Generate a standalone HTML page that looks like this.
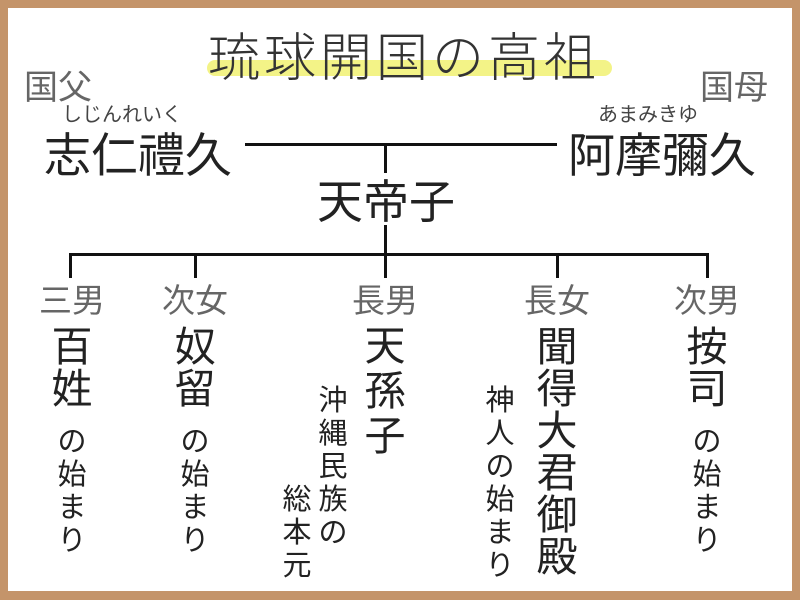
<!DOCTYPE html>
<html><head><meta charset="utf-8"><style>
body{margin:0;width:800px;height:600px;background:#c4946a;position:relative;overflow:hidden;font-family:"Liberation Sans","Noto Sans CJK JP",sans-serif;}
.panel{position:absolute;left:8px;top:8px;width:784px;height:583px;background:#fff;}
.t{position:absolute;white-space:nowrap;color:#222;}
.g{color:#666;}
.v{position:absolute;text-align:center;color:#222;}
.l{position:absolute;background:#111;}
</style></head><body>
<div class="panel"></div>
<div style="position:absolute;left:207px;top:60px;width:405px;height:16px;background:#f2f27a;border-radius:8px;opacity:.9"></div>
<div class="t" style="left:208px;top:16px;font-size:52px;letter-spacing:4px;color:#333;font-weight:300">琉球開国の高祖</div>
<div class="t g" style="left:24px;top:60px;font-size:34px">国父</div>
<div class="t g" style="left:700px;top:60px;font-size:34px">国母</div>
<div class="t" style="left:62px;top:98px;font-size:20px;color:#444">しじんれいく</div>
<div class="t" style="left:598px;top:98px;font-size:20px;color:#444">あまみきゆ</div>
<div class="t" style="left:44px;top:117px;font-size:47px">志仁禮久</div>
<div class="t" style="left:568px;top:117px;font-size:47px">阿摩彌久</div>
<div class="t" style="left:317px;top:166px;font-size:46px">天帝子</div>
<div class="l" style="left:245px;top:143px;width:312px;height:3px"></div>
<div class="l" style="left:384px;top:143px;width:3px;height:30px"></div>
<div class="l" style="left:384px;top:225px;width:3px;height:31px"></div>
<div class="l" style="left:69px;top:253px;width:640px;height:3px"></div>
<div class="l" style="left:69px;top:253px;width:3px;height:25px"></div>
<div class="l" style="left:194px;top:253px;width:3px;height:25px"></div>
<div class="l" style="left:384px;top:253px;width:3px;height:25px"></div>
<div class="l" style="left:556px;top:253px;width:3px;height:25px"></div>
<div class="l" style="left:706px;top:253px;width:3px;height:25px"></div>
<div class="t g" style="left:39px;top:274px;font-size:33px">三男</div>
<div class="t g" style="left:162px;top:274px;font-size:33px">次女</div>
<div class="t g" style="left:352px;top:274px;font-size:33px">長男</div>
<div class="t g" style="left:524px;top:274px;font-size:33px">長女</div>
<div class="t g" style="left:674px;top:274px;font-size:33px">次男</div>
<div class="v" style="left:50px;top:326px;width:44px;font-size:41px;line-height:42px">百<br>姓</div>
<div class="v" style="left:173px;top:326px;width:44px;font-size:41px;line-height:42px">奴<br>留</div>
<div class="v" style="left:363px;top:324px;width:44px;font-size:41px;line-height:45px">天<br>孫<br>子</div>
<div class="v" style="left:535px;top:326px;width:44px;font-size:41px;line-height:42px">聞<br>得<br>大<br>君<br>御<br>殿</div>
<div class="v" style="left:685px;top:326px;width:44px;font-size:41px;line-height:42px">按<br>司</div>
<div class="v" style="left:55px;top:426px;width:34px;font-size:29px;line-height:33px">の<br>始<br>ま<br>り</div>
<div class="v" style="left:178px;top:426px;width:34px;font-size:29px;line-height:33px">の<br>始<br>ま<br>り</div>
<div class="v" style="left:690px;top:426px;width:34px;font-size:29px;line-height:33px">の<br>始<br>ま<br>り</div>
<div class="v" style="left:316px;top:385px;width:34px;font-size:29px;line-height:33px">沖<br>縄<br>民<br>族<br>の</div>
<div class="v" style="left:280px;top:484px;width:34px;font-size:29px;line-height:33px">総<br>本<br>元</div>
<div class="v" style="left:483px;top:385px;width:34px;font-size:29px;line-height:33px">神<br>人<br>の<br>始<br>ま<br>り</div>
</body></html>
